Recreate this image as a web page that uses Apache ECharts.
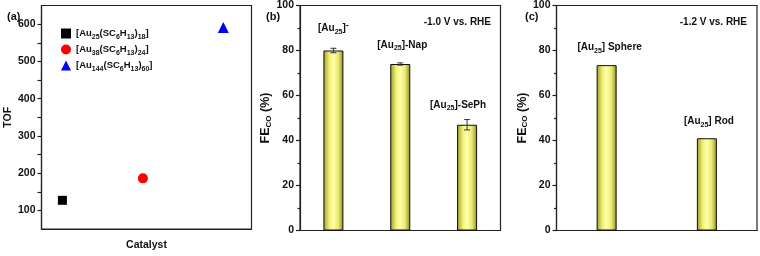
<!DOCTYPE html>
<html><head><meta charset="utf-8">
<script src="https://cdn.jsdelivr.net/npm/echarts@6/dist/echarts.min.js"></script>
<style>html,body{margin:0;padding:0;background:#fff}#c{width:760px;height:256px}</style>
</head><body><div id="c"></div>
<script>
// ---- data ----
const catalystNames = ['[Au25(SC6H13)18]', '[Au38(SC6H13)24]', '[Au144(SC6H13)60]'];
const catalystPos = [1, 2, 3];
const tofValues = [127, 186, 591];

const bCategories = ['[Au25]-', '[Au25]-Nap', '[Au25]-SePh'];
const bValues = [80, 74, 47];
const bErrors = [1.0, 0.5, 2.3];

const cCategories = ['[Au25] Sphere', '[Au25] Rod'];
const cValues = [73.5, 41];

const potentialB = '-1.0 V vs. RHE';
const potentialC = '-1.2 V vs. RHE';

// ---- styles ----
const FONT = '"Liberation Sans", Arial, sans-serif';
function mkRich(sub, sup) {
  return {
    s: { fontSize: sub, lineHeight: 8, verticalAlign: 'bottom', fontWeight: 'bold', fontFamily: FONT, color: '#111' },
    sup: { fontSize: sup, lineHeight: 8, verticalAlign: 'top', fontWeight: 'bold', fontFamily: FONT, color: '#111' }
  };
}
function subDigits(t) { return t.replace(/(\d+)/g, '{s|$1}'); }
function barLabel(t) {
  let r = subDigits(t);
  if (r.endsWith(']-')) r = r.slice(0, -1) + '{sup|-}';
  return r;
}
const symbols = ['rect', 'circle', 'triangle'];
const symSizes = [9, 10, 11];
const colors = ['#000000', '#ff0000', '#0000ff'];

const barGrad = { type: 'linear', x: 0, y: 0, x2: 1, y2: 0, colorStops: [
  { offset: 0, color: '#9c9c28' }, { offset: 0.3, color: '#f2f27a' },
  { offset: 0.5, color: '#ffffa8' }, { offset: 0.75, color: '#e8e870' }, { offset: 1, color: '#8a8a20' } ] };

const axisLineStyle = { color: '#222', width: 1.2 };
const tickLabel = { fontSize: 10.5, fontWeight: 'bold', fontFamily: FONT, color: '#111', margin: 6 };
const nameStyle = { fontSize: 10.5, fontWeight: 'bold', fontFamily: FONT, color: '#111', rich: {
  s: { fontSize: 8, lineHeight: 8, verticalAlign: 'bottom', fontWeight: 'bold', fontFamily: FONT, color: '#111' } } };

const grids = [
  { left: 41.5, top: 5.5, width: 210, height: 225 },
  { left: 300, top: 5.5, width: 200.5, height: 225 },
  { left: 556.5, top: 5.5, width: 200.5, height: 225 }
].map(g => Object.assign(g, { show: true, borderColor: '#222', borderWidth: 1.2, backgroundColor: 'transparent', containLabel: false }));

function feAxis(idx) {
  return { type: 'value', gridIndex: idx, min: 0, max: 100, interval: 20,
    name: 'FE{s|CO} (%)', nameLocation: 'middle', nameGap: 27, nameRotate: 90,
    nameTextStyle: Object.assign({}, nameStyle, { fontSize: 12.5, lineHeight: 14 }),
    axisLine: { show: true, lineStyle: axisLineStyle },
    axisTick: { show: true, inside: false, length: 4, lineStyle: axisLineStyle },
    minorTick: { show: true, splitNumber: 2, length: 2.5, lineStyle: axisLineStyle },
    splitLine: { show: false }, axisLabel: tickLabel };
}
function catAxis(idx, cats) {
  return { type: 'category', gridIndex: idx, data: cats, boundaryGap: true,
    axisLine: { show: true, lineStyle: axisLineStyle }, axisTick: { show: false }, axisLabel: { show: false } };
}

const labelBase = { show: true, position: 'top', fontSize: 10, fontWeight: 'bold', fontFamily: FONT, color: '#111',
  lineHeight: 14, rich: mkRich(7, 9), formatter: p => barLabel(p.name) };
const bLabelTweak = [{ distance: 15, offset: [0, 0] }, { distance: 12, offset: [2, 0] }, { distance: 13, offset: [-9, 0] }];
const cLabelTweak = [{ distance: 11, offset: [3, 0] }, { distance: 10, offset: [2, 0] }];
const panelTitle = { fontSize: 11, fontWeight: 'bold', fontFamily: FONT, color: '#111' };
const potTitle = { fontSize: 10, fontWeight: 'bold', fontFamily: FONT, color: '#111' };

const option = {
  animation: false,
  backgroundColor: '#fff',
  grid: grids,
  title: [
    { text: '(a)', left: 2, top: 6, textStyle: panelTitle },
    { text: '(b)', left: 261, top: 6, textStyle: panelTitle },
    { text: '(c)', left: 520, top: 6, textStyle: panelTitle },
    { text: potentialB, right: 264, top: 12, textStyle: potTitle },
    { text: potentialC, right: 8, top: 12, textStyle: potTitle }
  ],
  legend: {
    left: 56, top: 21.5, orient: 'vertical', itemGap: 2, itemWidth: 10, itemHeight: 10,
    data: catalystNames,
    formatter: n => subDigits(n),
    textStyle: { fontSize: 9.5, fontWeight: 'bold', fontFamily: FONT, color: '#111', lineHeight: 14, rich: mkRich(7, 8) }
  },
  xAxis: [
    { type: 'value', gridIndex: 0, min: 0.74, max: 3.35, name: 'Catalyst', nameLocation: 'middle', nameGap: 11,
      nameTextStyle: nameStyle, axisLine: { show: true, lineStyle: axisLineStyle }, axisTick: { show: false },
      axisLabel: { show: false }, splitLine: { show: false } },
    catAxis(1, bCategories),
    catAxis(2, cCategories)
  ],
  yAxis: [
    { type: 'value', gridIndex: 0, min: 50, max: 650, interval: 50,
      name: 'TOF', nameLocation: 'middle', nameGap: 28, nameRotate: 90, nameTextStyle: nameStyle,
      axisLine: { show: true, lineStyle: axisLineStyle },
      axisTick: { show: true, length: 4, lineStyle: axisLineStyle },
      splitLine: { show: false },
      axisLabel: Object.assign({}, tickLabel, { showMinLabel: false, showMaxLabel: false,
        formatter: v => (v % 100 === 0 ? String(v) : '') }) },
    feAxis(1),
    feAxis(2)
  ],
  series: [
    ...catalystNames.map((n, i) => ({
      type: 'scatter', name: n, xAxisIndex: 0, yAxisIndex: 0,
      symbol: symbols[i], symbolSize: symSizes[i], itemStyle: { color: colors[i], opacity: 1 },
      data: [[catalystPos[i], tofValues[i]]]
    })),
    { type: 'bar', xAxisIndex: 1, yAxisIndex: 1, barWidth: 20,
      itemStyle: { color: barGrad, borderColor: '#111', borderWidth: 1 },
      label: labelBase,
      data: bValues.map((v, i) => ({ value: v, label: bLabelTweak[i] })) },
    { type: 'custom', xAxisIndex: 1, yAxisIndex: 1, z: 5,
      data: bValues.map((v, i) => [i, v, bErrors[i]]),
      renderItem: (params, api) => {
        const x = api.value(0), v = api.value(1), e = api.value(2);
        const hi = api.coord([x, v + e]), lo = api.coord([x, v - e]);
        const st = { stroke: '#333', lineWidth: 1 };
        return { type: 'group', children: [
          { type: 'line', shape: { x1: hi[0], y1: hi[1], x2: lo[0], y2: lo[1] }, style: st },
          { type: 'line', shape: { x1: hi[0] - 3, y1: hi[1], x2: hi[0] + 3, y2: hi[1] }, style: st },
          { type: 'line', shape: { x1: lo[0] - 3, y1: lo[1], x2: lo[0] + 3, y2: lo[1] }, style: st }
        ] };
      } },
    { type: 'bar', xAxisIndex: 2, yAxisIndex: 2, barWidth: 20,
      itemStyle: { color: barGrad, borderColor: '#111', borderWidth: 1 },
      label: labelBase,
      data: cValues.map((v, i) => ({ value: v, label: cLabelTweak[i] })) }
  ]
};
const chart = echarts.init(document.getElementById('c'), null, { renderer: 'canvas' });
chart.setOption(option);
</script></body></html>
